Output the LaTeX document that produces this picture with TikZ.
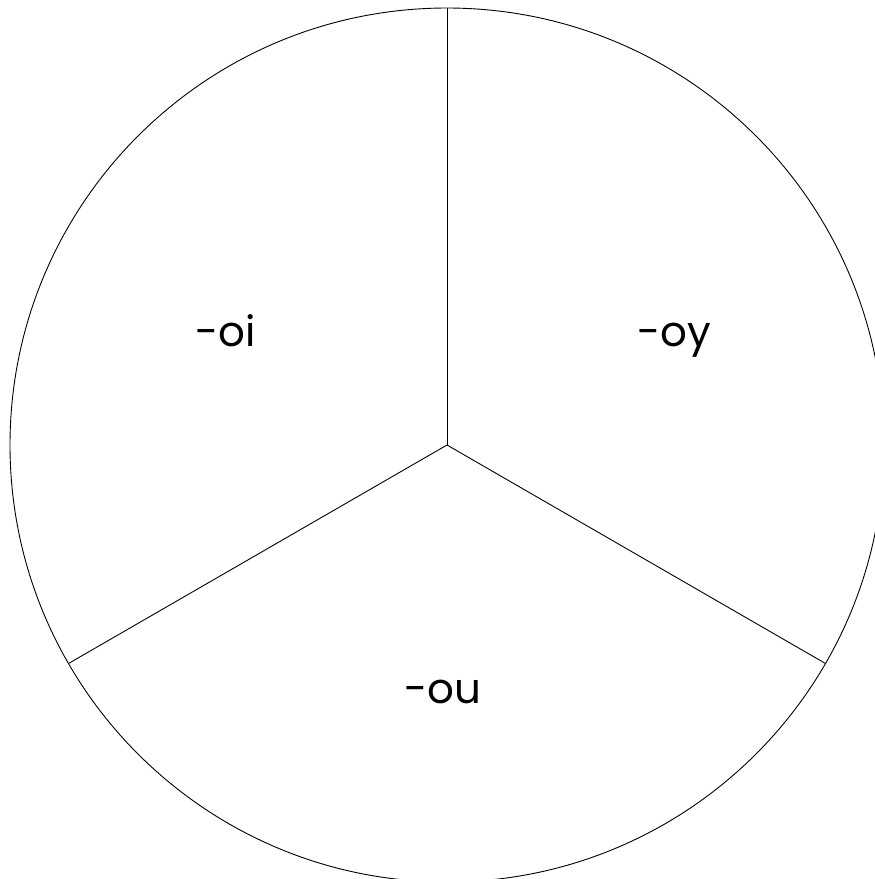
\documentclass[tikz,border=0pt]{standalone}
\usepackage{fontspec}
\setmainfont{Poppins}
\begin{document}
\begin{tikzpicture}[x=1pt,y=-1pt,
  edge/.style={draw=black,line width=0.9pt},
  lbl/.style={font=\fontsize{42}{50}\selectfont,inner sep=0pt,anchor=base}]
\useasboundingbox (0,0) rectangle (875,879);
\clip (0,0) rectangle (875,879);
\coordinate (c) at (447,445);
\draw[edge] (c) circle[radius=437];
\path (c) ++(0,-437) coordinate (top);
\path (c) ++(-378.5,218.5) coordinate (bl);
\path (c) ++(378.5,218.5) coordinate (br);
\draw[edge] (c) -- (top);
\draw[edge] (c) -- (bl);
\draw[edge] (c) -- (br);
\node[lbl] (oi) at (226,346) {-oi};
\node[lbl] (oy) at (674.5,346) {-oy};
\node[lbl] (ou) at (442.5,703) {-ou};
\end{tikzpicture}
\end{document}
